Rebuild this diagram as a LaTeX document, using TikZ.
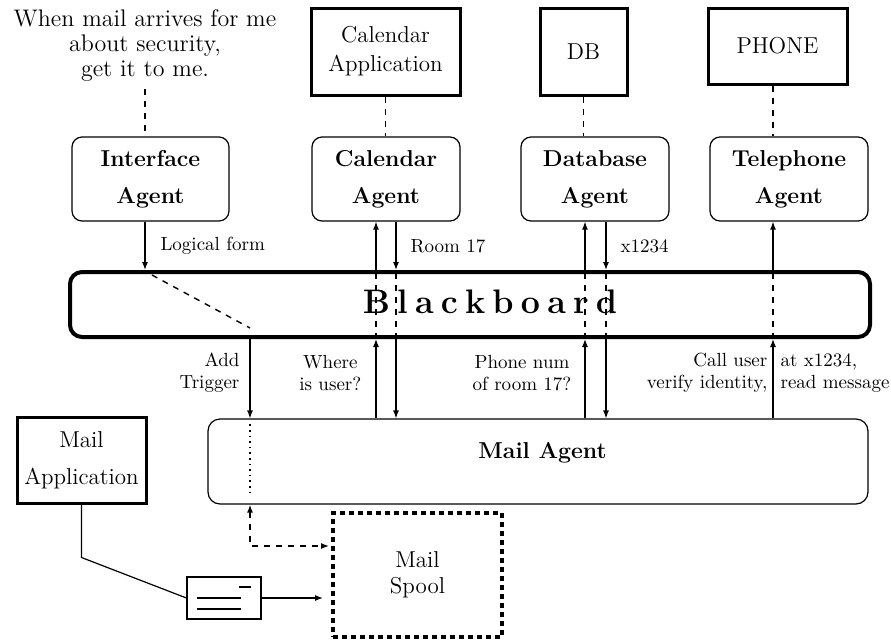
\documentclass[tikz,border=0pt]{standalone}
\usepackage{tikz}
\usetikzlibrary{arrows.meta,calc,positioning}
\newcommand{\bbgap}{\hspace{3.6pt}}

\begin{document}
\begin{tikzpicture}[x=0.5pt,y=-0.5pt,
  app/.style={draw,line width=1.5pt,align=center,inner sep=0pt,font=\fontsize{11.5}{14.5}\selectfont},
  agent/.style={draw,line width=0.6pt,rounded corners=5pt,align=center,inner sep=0pt,minimum height=42pt,font=\fontsize{11.5}{18.5}\selectfont\bfseries},
  flow/.style={-{Latex[length=4pt,width=3pt]},line width=0.6pt},
  msg/.style={font=\fontsize{9.5}{11}\selectfont,inner sep=0pt},
  through/.style={line width=0.7pt,dash pattern=on 3pt off 3pt}]
\useasboundingbox (0,0) rectangle (891,644);

% applications and the user's request
\node (note) [align=center,font=\fontsize{12}{12.5}\selectfont] at (145,46) {When mail arrives for me\\about security,\\get it to me.};
\node (calapp) [app,minimum width=74.5pt,minimum height=43.5pt] at (385.5,51.5) {Calendar\\Application};
\node (dbapp) [app,minimum width=43.5pt,minimum height=43.5pt] at (583.5,51.5) {DB};
\node (phone) [app,minimum width=69.5pt,minimum height=38pt] at (777.5,46) {PHONE};

% agents
\node (ifagent) [agent,minimum width=78.5pt] at (150.5,179) {Interface\\Agent};
\node (calagent) [agent,minimum width=74pt] at (386,179) {Calendar\\Agent};
\node (dbagent) [agent,minimum width=74pt] at (595,179) {Database\\Agent};
\node (telagent) [agent,minimum width=79pt] at (789,179) {Telephone\\Agent};

% blackboard
\node (bb) [draw,line width=2pt,rounded corners=6pt,minimum width=400pt,minimum height=32.5pt] at (470,304.5) {};
\node (bbtitle) [font=\fontsize{17}{20}\selectfont\bfseries] at (490,302) {B\bbgap l\bbgap a\bbgap c\bbgap k\bbgap b\bbgap o\bbgap a\bbgap r\bbgap d};

% mail side
\node (mailagent) [draw,line width=0.6pt,rounded corners=6pt,minimum width=330pt,minimum height=42.5pt] at (538,461.5) {};
\node (matitle) [font=\fontsize{11.5}{14}\selectfont\bfseries] at (542.5,453) {Mail Agent};
\node (mailapp) [app,minimum width=64.5pt,minimum height=43pt,font=\fontsize{11.5}{18.5}\selectfont] at (81.5,460) {Mail\\Application};
\node (spool) [draw,line width=2pt,dash pattern=on 2.5pt off 2pt,minimum width=84.5pt,minimum height=62pt,align=center,font=\fontsize{11.5}{13}\selectfont] at (417.5,575) {Mail\\Spool};
\node (env) [draw,line width=0.6pt,minimum width=37pt,minimum height=21pt] at (224,598) {};
\draw[line width=0.6pt] ($(env)+(-27,0)$) -- ($(env)+(17,0)$);
\draw[line width=0.6pt] ($(env)+(-27,11)$) -- ($(env)+(17,11)$);
\draw[line width=0.6pt] ($(env)+(15,-11)$) -- ($(env)+(27,-11)$);

% columns of the message lines
\coordinate (trig) at (250,0);
\coordinate (calup) at (376,0);
\coordinate (caldn) at (396,0);
\coordinate (dbup) at (585,0);
\coordinate (dbdn) at (606,0);
\coordinate (telup) at (773,0);

% apps to agents
\draw[through] (note.south) -- (ifagent.north -| note);
\draw[through] (calapp.south) -- (calagent.north -| calapp);
\draw[through] (dbapp.south) -- (dbagent.north -| dbapp);
\draw[through] (phone.south -| telup) -- (telagent.north -| telup);

% agents to blackboard
\draw[flow] (ifagent.south -| note) -- (bb.north -| note) node[msg,midway,anchor=west,xshift=7.5pt] {Logical form};
\draw[flow] (bb.north -| calup) -- (calagent.south -| calup);
\draw[flow] (calagent.south -| caldn) -- (bb.north -| caldn) node[msg,midway,anchor=west,xshift=7pt] {Room 17};
\draw[flow] (bb.north -| dbup) -- (dbagent.south -| dbup);
\draw[flow] (dbagent.south -| dbdn) -- (bb.north -| dbdn) node[msg,midway,anchor=west,xshift=7pt] {x1234};
\draw[flow] (bb.north -| telup) -- (telagent.south -| telup);

% through the blackboard
\draw[through] ($(bb.north -| note)+(7,5)$) -- ($(bb.south -| trig)+(0,-11)$);
\foreach \c in {calup,caldn,dbup,dbdn,telup}
  \draw[through] (bb.south -| \c) -- (bb.north -| \c);

% blackboard to mail agent
\draw[flow] (bb.south -| trig) -- (mailagent.north -| trig) node[msg,midway,anchor=east,xshift=-5pt,yshift=3pt,align=right] {Add\\Trigger};
\draw[flow] (mailagent.north -| calup) -- (bb.south -| calup) node[msg,midway,anchor=east,xshift=-7pt,yshift=3pt,align=center] {Where\\is user?};
\draw[flow] (bb.south -| caldn) -- (mailagent.north -| caldn);
\draw[flow] (mailagent.north -| dbup) -- (bb.south -| dbup) node[msg,midway,anchor=east,xshift=-6.5pt,yshift=3pt,align=center] {Phone num\\of room 17?};
\draw[flow] (bb.south -| dbdn) -- (mailagent.north -| dbdn);
\draw[flow] (mailagent.north -| telup) -- (bb.south -| telup)
  node[msg,midway,anchor=east,xshift=-2.5pt,yshift=3pt,align=right] {Call user\\verify identity,}
  node[msg,midway,anchor=west,xshift=3.5pt,yshift=3pt,align=left] {at x1234,\\read message};

% mail delivery
\draw[dotted,line width=0.8pt,shorten <=3pt,shorten >=4pt] (mailagent.north -| trig) -- (mailagent.south -| trig);
\draw[through,{Latex[length=4pt,width=3pt]}-{Latex[length=4pt,width=3pt]}] (mailagent.south -| trig) |- ($(spool.west)+(-2,-29)$);
\draw[line width=0.6pt] (mailapp.south) -- ++(0,53) -- (env.west);
\draw[flow,shorten >=4pt] (env.east) -- (env.east -| spool.west);
\end{tikzpicture}
\end{document}
